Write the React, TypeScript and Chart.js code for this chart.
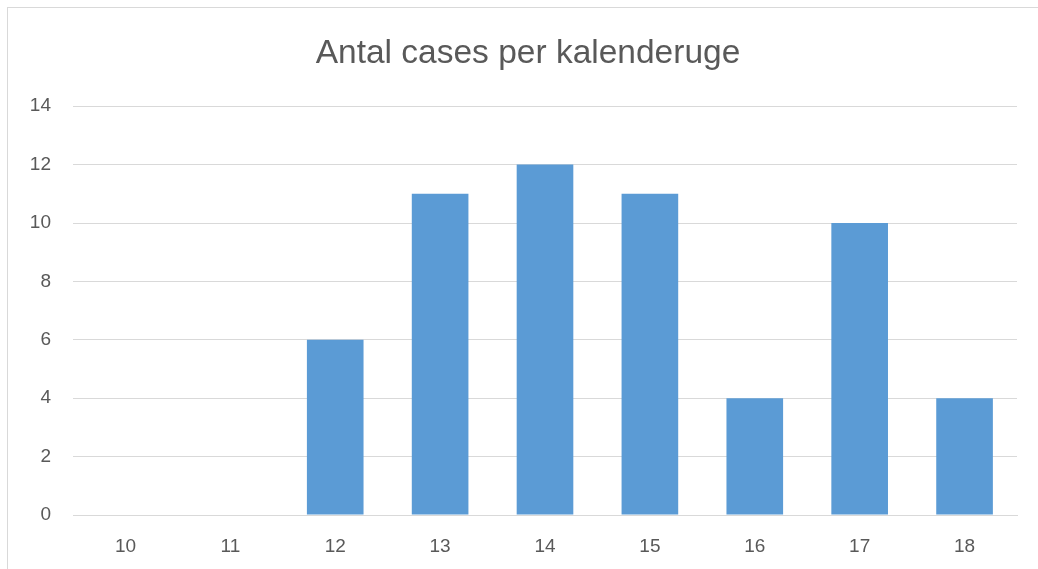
import React, { useEffect, useRef } from "react";
import { Chart, registerables } from "chart.js";

Chart.register(...registerables);

const titleText = "Antal cases per kalenderuge";
const weeks = ["10", "11", "12", "13", "14", "15", "16", "17", "18"];
const cases = [0, 0, 6, 11, 12, 11, 4, 10, 4];
const yMin = 0;
const yMax = 14;
const yStep = 2;

const shiftTitle = {
  id: "shiftTitle",
  afterLayout(chart: any) {
    const t = chart.titleBlock;
    if (t) {
      t.left += 31;
      t.width = t.right - t.left;
    }
  },
};

export default function App() {
  const ref = useRef<HTMLCanvasElement | null>(null);

  useEffect(() => {
    if (!ref.current) return;
    const textColor = "#595959";
    const gridColor = "#d9d9d9";
    const chart = new Chart(ref.current, {
      type: "bar",
      data: {
        labels: weeks,
        datasets: [
          {
            label: "Antal cases",
            data: cases,
            backgroundColor: "#5b9bd5",
            borderWidth: 0,
            barPercentage: 0.54,
            categoryPercentage: 1,
          },
        ],
      },
      plugins: [shiftTitle],
      options: {
        animation: false,
        responsive: false,
        maintainAspectRatio: false,
        layout: { padding: { left: 0, right: 29, top: 0, bottom: 0 } },
        plugins: {
          legend: { display: false },
          tooltip: { enabled: false },
          title: {
            display: true,
            text: titleText,
            color: textColor,
            font: { family: "'Liberation Sans', Arial, sans-serif", size: 33.5, weight: "normal" },
            padding: { top: 26, bottom: 32 },
          },
        },
        scales: {
          x: {
            grid: { display: false, drawTicks: false },
            border: { display: true, color: gridColor, width: 1 },
            ticks: {
              color: textColor,
              font: { family: "'Liberation Sans', Arial, sans-serif", size: 19 },
              padding: 20,
              maxRotation: 0,
            },
            afterFit: (scale: any) => {
              scale.height = 61;
            },
          },
          y: {
            min: yMin,
            max: yMax,
            grid: { color: gridColor, drawTicks: false, lineWidth: 1 },
            border: { display: false },
            ticks: {
              stepSize: yStep,
              color: textColor,
              font: { family: "'Liberation Sans', Arial, sans-serif", size: 19 },
              padding: 22,
            },
            afterFit: (scale: any) => {
              scale.width = 65;
            },
          },
        },
      },
    });
    return () => chart.destroy();
  }, []);

  return (
    <div
      style={{
        position: "absolute",
        left: 7,
        top: 7,
        width: 1040,
        height: 570,
        border: "1px solid #d9d9d9",
        boxSizing: "border-box",
        background: "#fff",
      }}
    >
      <canvas ref={ref} width={1038} height={568} style={{ display: "block" }} />
    </div>
  );
}
